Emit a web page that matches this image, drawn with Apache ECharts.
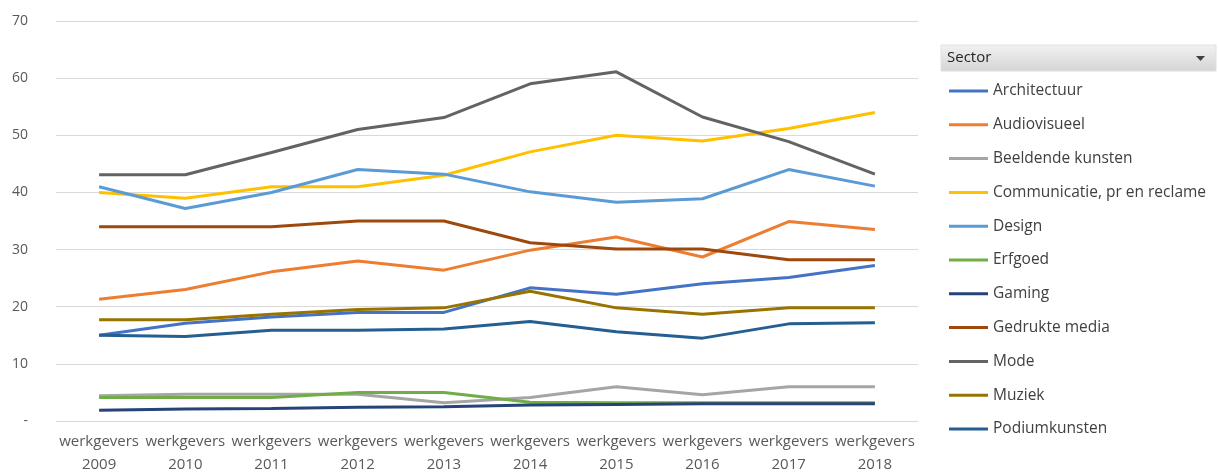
<!DOCTYPE html>
<html><head><meta charset="utf-8">
<script src="https://cdn.jsdelivr.net/npm/echarts@6/dist/echarts.min.js"></script>
<style>html,body{margin:0;padding:0;background:#fff}#c{width:1219px;height:473px}</style>
</head><body><div id="c"></div>
<script>
const categories = ['werkgevers\n2009','werkgevers\n2010','werkgevers\n2011','werkgevers\n2012','werkgevers\n2013','werkgevers\n2014','werkgevers\n2015','werkgevers\n2016','werkgevers\n2017','werkgevers\n2018'];
const yTicks = [0,10,20,30,40,50,60,70];
const architectuur = [15.0,17.1,18.2,19.0,19.0,23.3,22.2,24.0,25.1,27.2];
const audiovisueel = [21.3,23.0,26.1,28.0,26.4,29.9,32.2,28.7,34.9,33.5];
const beeldende = [4.4,4.7,4.7,4.7,3.2,4.1,6.0,4.6,6.0,6.0];
const communicatie = [40.0,39.0,41.0,41.0,43.0,47.1,50.0,49.0,51.2,54.0];
const design = [41.0,37.2,40.0,44.0,43.2,40.1,38.3,38.9,44.0,41.1];
const erfgoed = [4.1,4.1,4.1,5.0,5.0,3.3,3.2,3.2,3.2,3.2];
const gaming = [1.9,2.1,2.2,2.4,2.5,2.8,2.9,3.0,3.0,3.0];
const gedrukte = [34.0,34.0,34.0,35.0,35.0,31.2,30.1,30.1,28.2,28.2];
const mode = [43.1,43.1,47.0,51.0,53.1,59.0,61.1,53.2,48.9,43.2];
const muziek = [17.7,17.7,18.7,19.5,19.8,22.7,19.8,18.7,19.8,19.8];
const podium = [15.0,14.8,15.9,15.9,16.1,17.4,15.6,14.5,17.0,17.2];

const seriesDefs = [
  ['Architectuur', architectuur, '#4472C4'],
  ['Audiovisueel', audiovisueel, '#ED7D31'],
  ['Beeldende kunsten', beeldende, '#A5A5A5'],
  ['Communicatie, pr en reclame', communicatie, '#FFC000'],
  ['Design', design, '#5B9BD5'],
  ['Erfgoed', erfgoed, '#70AD47'],
  ['Gaming', gaming, '#264478'],
  ['Gedrukte media', gedrukte, '#9E480E'],
  ['Mode', mode, '#636363'],
  ['Muziek', muziek, '#997300'],
  ['Podiumkunsten', podium, '#255E91']
];
const FONT = 'Open Sans';
const chart = echarts.init(document.getElementById('c'));
chart.setOption({
  animation: false,
  color: seriesDefs.map(s => s[2]),
  grid: {left: 56, right: 301, top: 21, bottom: 52, outerBoundsMode: 'none', containLabel: false},
  xAxis: {
    type: 'category', data: categories, boundaryGap: true,
    axisLine: {show: false}, axisTick: {show: false},
    axisLabel: {color: '#595959', fontFamily: FONT, fontSize: 15, lineHeight: 23, margin: 9, interval: 0}
  },
  yAxis: {
    type: 'value', min: 0, max: 70, interval: 10,
    axisLine: {show: false}, axisTick: {show: false},
    splitLine: {lineStyle: {color: '#D9D9D9', width: 1}},
    axisLabel: {color: '#595959', fontFamily: FONT, fontSize: 14, margin: 28,
      formatter: v => v === 0 ? '-' : String(v)}
  },
  legend: {
    orient: 'vertical', left: 944, top: 76,
    icon: 'rect', itemWidth: 39, itemHeight: 3, itemGap: 13.8,
    textStyle: {color: '#404040', fontFamily: FONT, fontSize: 15.5, lineHeight: 20},
    data: seriesDefs.map(s => s[0])
  },
  graphic: [
    {type: 'rect', shape: {x: 941, y: 45, width: 275, height: 26},
     style: {fill: new echarts.graphic.LinearGradient(0,0,0,1,[{offset:0,color:'#F2F2F2'},{offset:1,color:'#D4D4D4'}]), stroke: '#E0E0E0'}},
    {type: 'text', x: 947, y: 58, style: {text: 'Sector', fill: '#262626', font: '15px "Open Sans"', verticalAlign: 'middle'}},
    {type: 'polygon', shape: {points: [[1196,56],[1205,56],[1200.5,61]]}, style: {fill: '#404040'}}
  ],
  series: seriesDefs.map(s => ({
    name: s[0], type: 'line', data: s[1], symbol: 'none',
    lineStyle: {width: 3, color: s[2]}, itemStyle: {color: s[2]}
  }))
});
</script></body></html>
